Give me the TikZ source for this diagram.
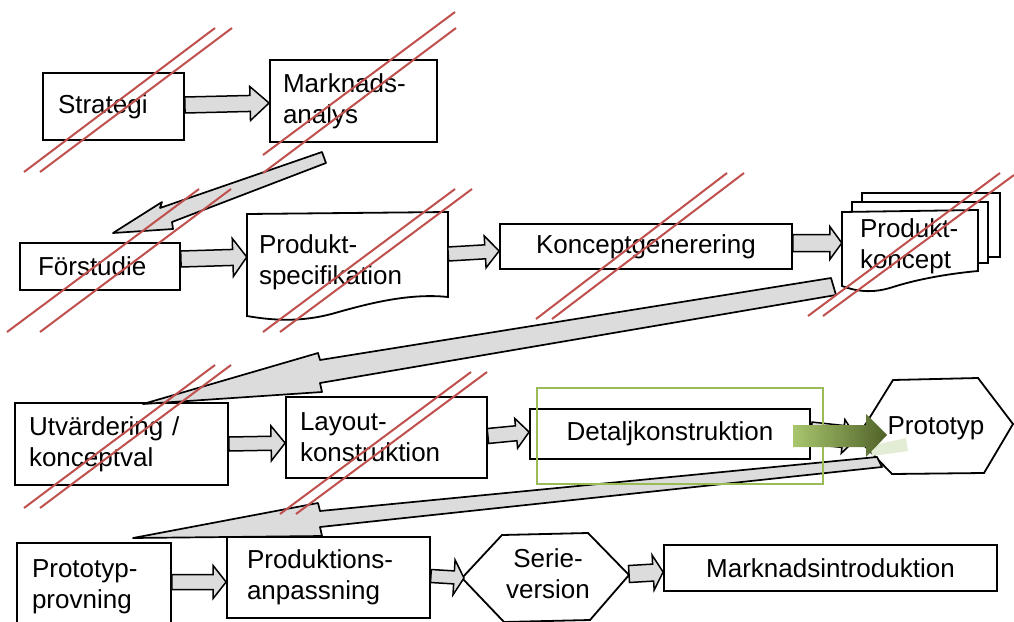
\documentclass[tikz,border=0pt]{standalone}
\usepackage{fontspec}
\setmainfont{Liberation Sans}
\usetikzlibrary{calc}

\newcommand\diagfont{\fontsize{26}{31}\selectfont}
\definecolor{strike}{HTML}{C0504D}
\definecolor{leafline}{HTML}{9BBB59}
\definecolor{leaflight}{HTML}{A9C66E}
\definecolor{leafdark}{HTML}{4F6228}
\definecolor{leafhaze}{HTML}{E3ECD4}
\definecolor{stipple}{HTML}{DCDCDC}

% outlined block arrow: start, end, half shaft width, half head width, head length
\newcommand\blockarrow[5]{%
  \coordinate (ba-s) at (#1);
  \coordinate (ba-e) at (#2);
  \coordinate (ba-h) at ($(ba-e)!#5!(ba-s)$);
  \draw[blockarrow] ($(ba-s)!#3!90:(ba-e)$) -- ($(ba-h)!#3!90:(ba-e)$)
    -- ($(ba-h)!#4!90:(ba-e)$) -- (ba-e) -- ($(ba-h)!#4!-90:(ba-e)$)
    -- ($(ba-h)!#3!-90:(ba-e)$) -- ($(ba-s)!#3!-90:(ba-e)$) -- cycle;
}

\begin{document}
\begin{tikzpicture}[x=1pt,y=-1pt,
  box/.style={draw, line width=1.8pt, fill=white, font=\diagfont, inner ysep=0pt},
  leftbox/.style 2 args={box, align=left, text width=#1, inner xsep=#2},
  textonly/.style={font=\diagfont, inner sep=0pt},
  outline/.style={draw, line width=1.8pt, fill=white},
  blockarrow/.style={draw, line width=1.5pt, fill=stipple, line join=miter},
  bigarrow/.style={draw, line width=1.7pt, fill=stipple, line join=round},
  strikeline/.style={strike, line width=2pt},
]
\useasboundingbox (0,0) rectangle (1014,621);
\clip (0,0) rectangle (1014,621);
\fill[white] (0,0) rectangle (1014,621);

% ---------- row 1 ----------
\node[leftbox={111pt}{15pt}, minimum height=67pt] (strat) at (113.5,106.5) {Strategi};
\node[leftbox={141pt}{13pt}, minimum height=82pt] (mark) at (353.5,101) {Marknads-\\analys};

% ---------- row 2 ----------
\node[leftbox={124pt}{18pt}, minimum height=47pt] (forst) at (100,266.5) {Förstudie};
\draw[outline] (247,214) -- (448,212) -- (448,297)
  .. controls (410,293) and (370,303) .. (335,313)
  .. controls (300,323) and (270,320) .. (247,316) -- cycle;
\node[textonly, align=left, text width=177pt, inner xsep=12pt, minimum height=84pt] (pspec) at (347.5,262) {Produkt-\\specifikation};
\node[box, minimum width=292pt, minimum height=45pt] (kgen) at (646,246.5) {Konceptgenerering};
% stacked concept sheets
\draw[outline] (862,193) rectangle (1000,257);
\draw[outline] (852,202) rectangle (988,263);
\draw[outline] (842,212) -- (978,210) -- (978,271)
  .. controls (945,274) and (915,280) .. (893,287)
  .. controls (872,294) and (855,291) .. (842,286) -- cycle;
\node[textonly, align=left, text width=100pt, inner xsep=18pt] (pkon) at (910,246) {Produkt-\\koncept};

% ---------- row 3 ----------
\node[leftbox={185pt}{14pt}, minimum height=82pt] (utv) at (121.5,444) {Utvärdering /\\konceptval};
\node[leftbox={173pt}{14pt}, minimum height=81pt] (layout) at (386.5,437.5) {Layout-\\konstruktion};
\node[box, minimum width=280pt, minimum height=50pt] (detalj) at (670,434) {Detaljkonstruktion};
\draw[outline] (857,438) -- (893,380) -- (978,378) -- (1013,424) -- (984,473) -- (892,474) -- cycle;
\coordinate (proto-w) at (857,438);
\node[textonly] (proto) at (936,428) {Prototyp};

% ---------- row 4 ----------
\node[leftbox={124pt}{15pt}, minimum height=87pt] (pprov) at (94,586.5) {Prototyp-\\provning};
\node[leftbox={163pt}{20pt}, minimum height=81pt] (prodanp) at (328.5,577.5) {Produktions-\\anpassning};
\draw[outline] (462,578) -- (502,535) -- (588,533) -- (629,575) -- (590,620) -- (504,622) -- cycle;
\coordinate (serie-w) at (464,578);
\coordinate (serie-e) at (629,574);
\node[textonly, align=center] (serie) at (548,574) {Serie-\\version};
\node[box, minimum width=333pt, minimum height=46pt] (mintro) at (830.5,568) {Marknadsintroduktion};

% ---------- step arrows ----------
\blockarrow{strat.east |- 0,105}{mark.west |- 0,103}{8pt}{17pt}{19pt}
\blockarrow{forst.east |- 0,259}{pspec.west |- 0,257}{8pt}{19pt}{14pt}
\blockarrow{pspec.east |- 0,254}{kgen.west |- 0,251}{7pt}{16pt}{14pt}
\blockarrow{kgen.east |- 0,243}{pkon.west |- 0,243}{8.5pt}{16.5pt}{12pt}
\blockarrow{utv.east |- 0,444}{layout.west |- 0,443}{7pt}{17.5pt}{14pt}
\blockarrow{layout.east |- 0,436}{detalj.west |- 0,432}{7.5pt}{15pt}{13pt}
\blockarrow{detalj.east |- 0,433}{proto-w}{11pt}{17pt}{14pt}
\blockarrow{pprov.east |- 0,582}{prodanp.west |- 0,582}{7.5pt}{16.5pt}{13pt}
\blockarrow{prodanp.east |- 0,576}{serie-w}{6.5pt}{17.5pt}{10pt}
\blockarrow{serie-e}{mintro.west |- 0,572}{8.5pt}{17.5pt}{10pt}

% ---------- arrows between rows ----------
\draw[bigarrow] (113,233) -- (162,202) -- (160,208) -- (322,152) -- (326,163)
  -- (172,222) -- (173,229) -- cycle;
\draw[bigarrow] (143,404) -- (318,353) -- (320,360) -- (831,278) -- (836,295)
  -- (320,383) -- (322,392) -- cycle;
\draw[bigarrow] (133,538) -- (318,503) -- (320,511) -- (877,457) -- (882,467)
  -- (320,527) -- (322,536) -- cycle;

% ---------- highlight ----------
\draw[leafline, line width=2.4pt] (537,388) rectangle (823,484);
\fill[leafhaze] (870,446) -- (906,438) -- (908,451) -- (872,456) -- cycle;
\shade[left color=leaflight, right color=leafdark]
  (793,425) -- (866,425) -- (866,414) -- (887,435) -- (866,457) -- (866,447) -- (793,447) -- cycle;

% ---------- strike-through pairs ----------
\draw[strikeline] (24,172) -- (215,28);   \draw[strikeline] (40,172) -- (232,28);
\draw[strikeline] (263,155) -- (455,12);  \draw[strikeline] (263,173) -- (456,28);
\draw[strikeline] (7,332) -- (199,189);   \draw[strikeline] (40,332) -- (231,189);
\draw[strikeline] (263,332) -- (455,189); \draw[strikeline] (280,332) -- (472,189);
\draw[strikeline] (536,319) -- (727,173); \draw[strikeline] (552,319) -- (744,173);
\draw[strikeline] (808,316) -- (1000,173);\draw[strikeline] (823,316) -- (1014,175);
\draw[strikeline] (24,508) -- (215,365);  \draw[strikeline] (40,508) -- (231,365);
\draw[strikeline] (280,514) -- (471,372);  \draw[strikeline] (296,514) -- (487,372);
\end{tikzpicture}
\end{document}
